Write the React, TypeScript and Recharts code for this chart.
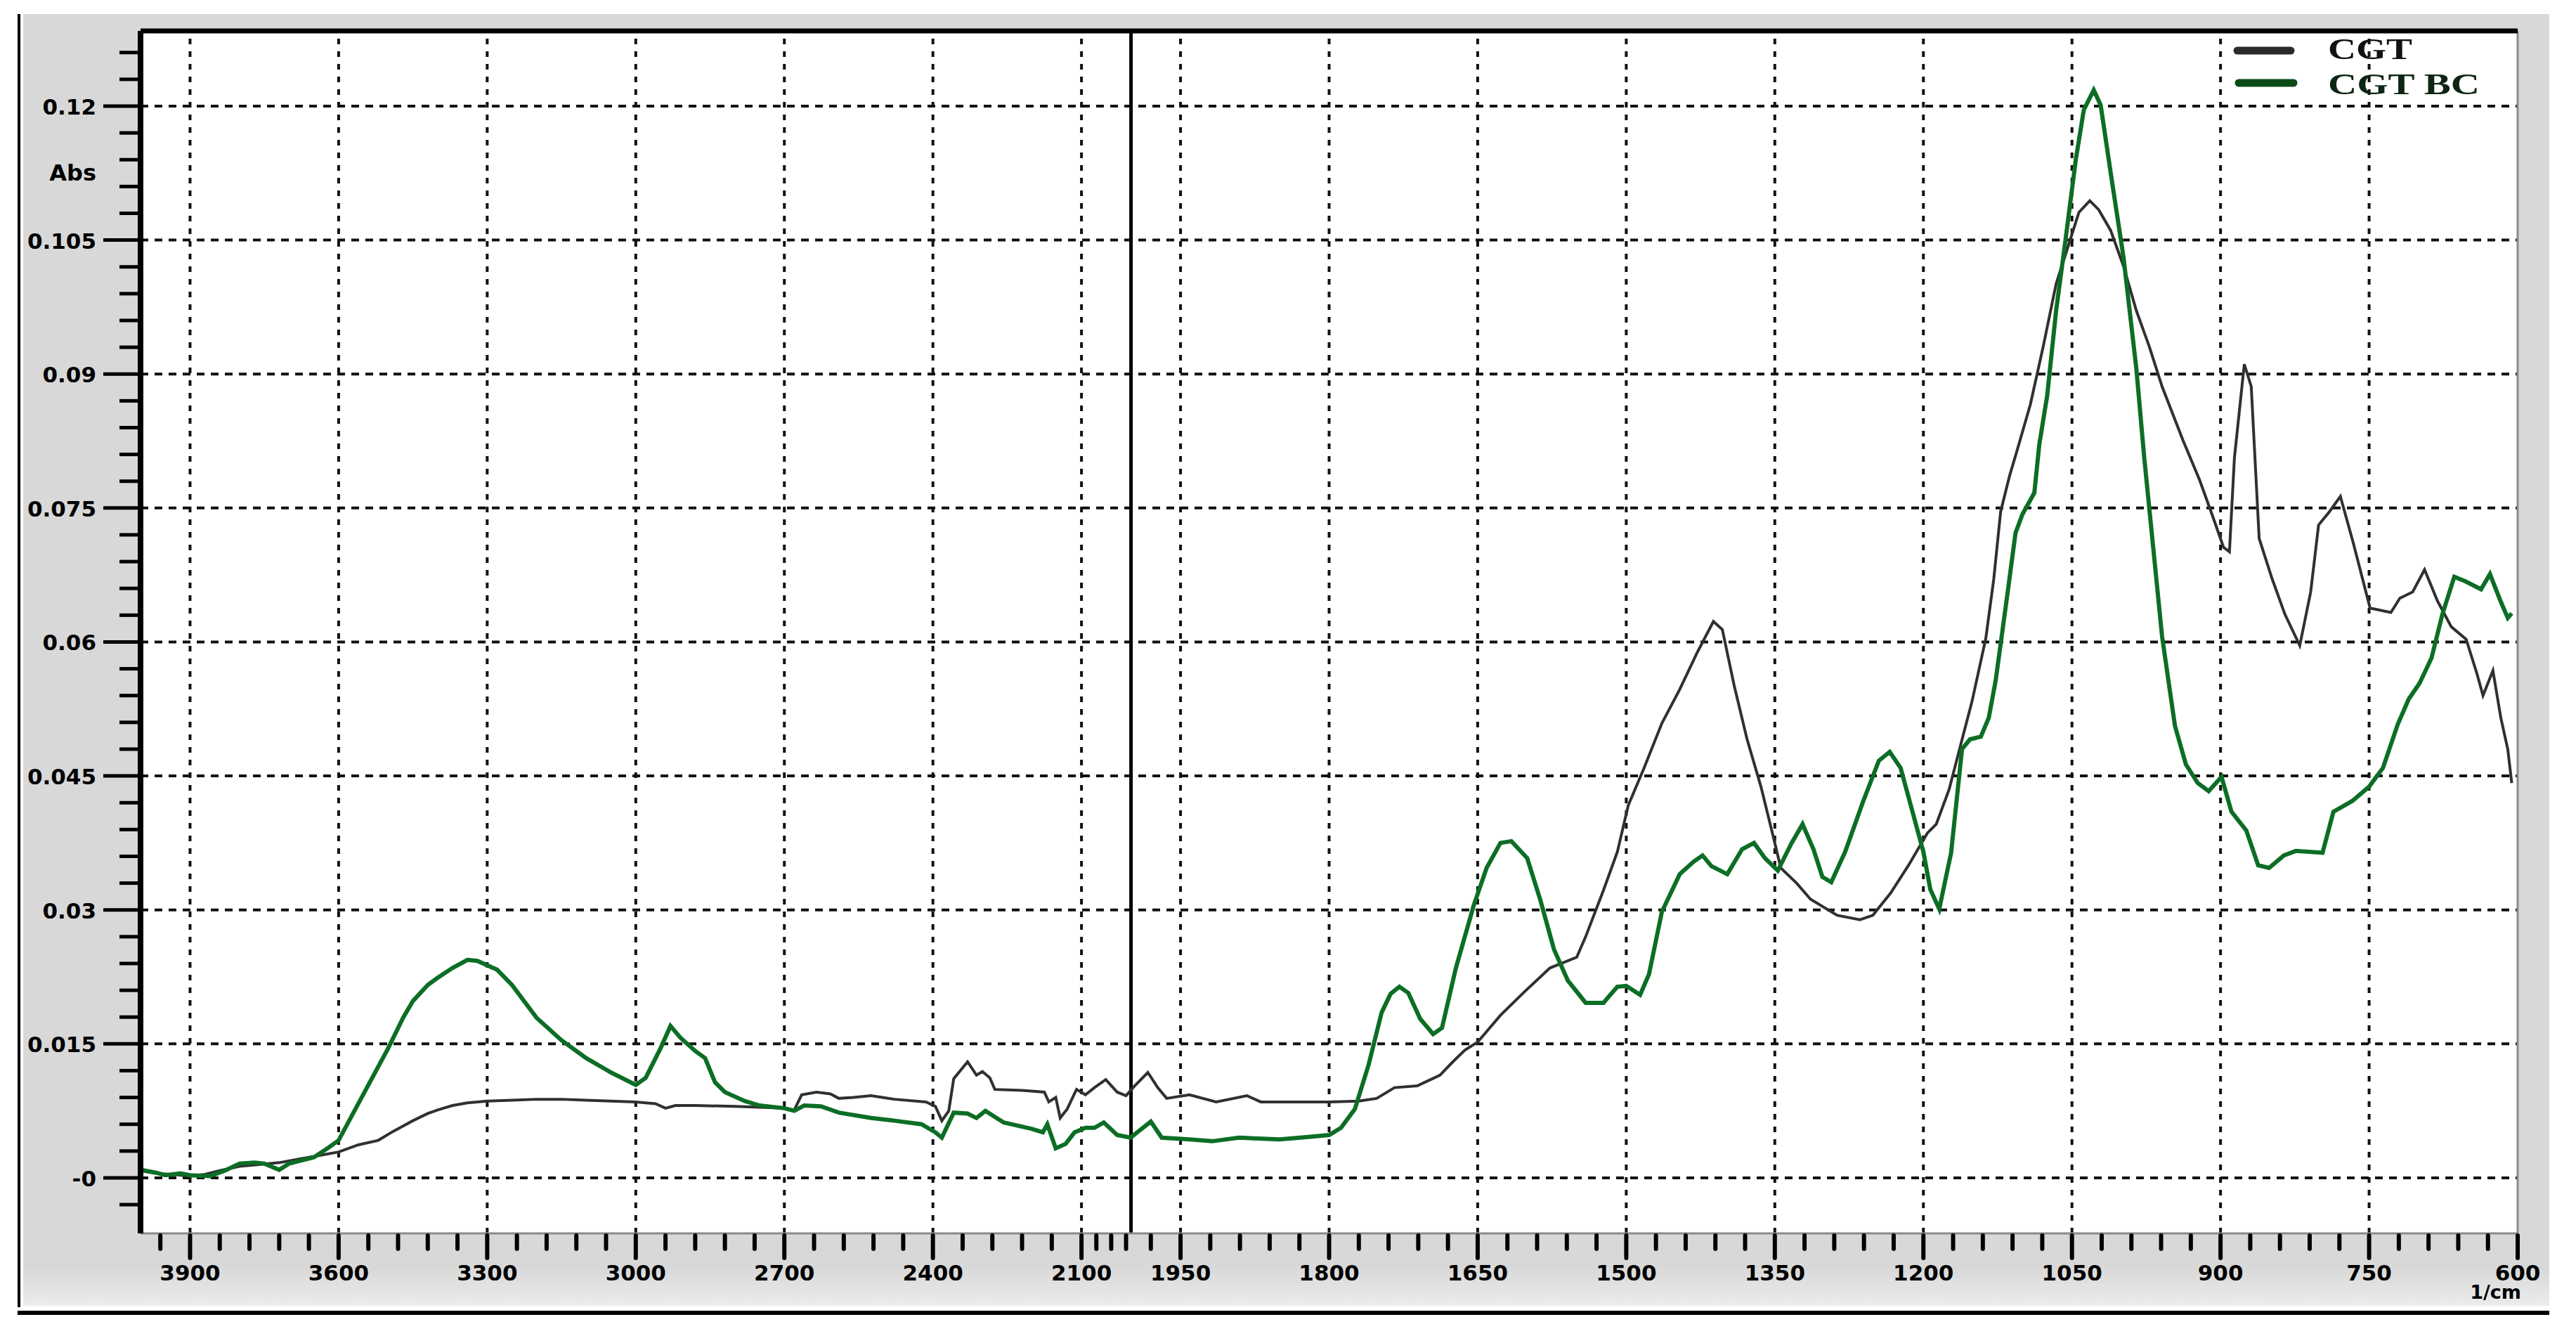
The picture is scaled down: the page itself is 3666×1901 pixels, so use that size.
import React from 'react';
import { LineChart, Line, XAxis, YAxis, ReferenceLine, ReferenceArea, Legend } from 'recharts';

// FTIR spectra (wavenumber in 1/cm, absorbance)
const cgtWavenumber = [
  4000, 3970, 3940, 3900, 3870, 3840, 3800, 3760, 3720, 3680, 3640, 3600, 3560, 3520, 3490, 3450,
  3420, 3400, 3370, 3340, 3300, 3250, 3200, 3150, 3100, 3050, 3000, 2960, 2940, 2920, 2880, 2800,
  2750, 2700, 2680, 2665, 2635, 2607, 2590, 2560, 2525, 2478, 2414, 2395, 2382, 2368, 2358, 2330,
  2312, 2300, 2285, 2275, 2220, 2175, 2166, 2152, 2143, 2129, 2110, 2092, 2074, 2051, 2028, 2010,
  1998, 1983, 1973, 1964, 1941, 1914, 1883, 1869, 1828, 1800, 1770, 1752, 1734, 1711, 1688, 1675,
  1663, 1650, 1627, 1604, 1577, 1550, 1541, 1523, 1509, 1498, 1482, 1464, 1446, 1428, 1412, 1403,
  1391, 1378, 1364, 1350, 1344, 1328, 1314, 1287, 1264, 1251, 1233, 1215, 1196, 1187, 1174, 1160,
  1151, 1137, 1129, 1122, 1113, 1105, 1092, 1079, 1066, 1053, 1043, 1032, 1023, 1011, 998, 985,
  972, 959, 938, 921, 908, 897, 891, 886, 876, 869, 861, 848, 835, 820, 809, 801,
  790, 779, 766, 749, 728, 719, 706, 694, 681, 667, 652, 641, 635, 625, 617, 610, 606,
];
const cgtAbs = [
  0.0008, 0.0005, 0.0004, 0.0002, 0.0004, 0.0008, 0.0013, 0.0015, 0.0017, 0.0021, 0.0025, 0.0029, 0.0037, 0.0042, 0.0052, 0.0064,
  0.0072, 0.0076, 0.0081, 0.0084, 0.0086, 0.0087, 0.0088, 0.0088, 0.0087, 0.0086, 0.0085, 0.0083, 0.0078, 0.0081, 0.0081, 0.008,
  0.0079, 0.0078, 0.0076, 0.0093, 0.0096, 0.0094, 0.0089, 0.009, 0.0092, 0.0088, 0.0085, 0.008, 0.0064, 0.0075, 0.0111, 0.013,
  0.0115, 0.0119, 0.0112, 0.0099, 0.0098, 0.0096, 0.0085, 0.009, 0.0067, 0.0077, 0.0099, 0.0093, 0.0101, 0.011, 0.0096, 0.0092,
  0.0101, 0.0118, 0.0101, 0.0089, 0.0093, 0.0085, 0.0092, 0.0085, 0.0085, 0.0085, 0.0086, 0.0089, 0.0101, 0.0103, 0.0115, 0.013,
  0.0143, 0.0152, 0.0182, 0.0207, 0.0235, 0.0247, 0.027, 0.0322, 0.0365, 0.0417, 0.0459, 0.0509, 0.0547, 0.0589, 0.0623, 0.0614,
  0.0551, 0.0491, 0.0438, 0.0375, 0.0347, 0.033, 0.0312, 0.0294, 0.0289, 0.0294, 0.0319, 0.035, 0.0386, 0.0396, 0.0435, 0.0495,
  0.0533, 0.0604, 0.067, 0.0746, 0.0786, 0.0816, 0.0866, 0.0931, 0.1001, 0.1046, 0.1081, 0.1094, 0.1084, 0.1061, 0.1021, 0.0971,
  0.0931, 0.0886, 0.0826, 0.0781, 0.0741, 0.0706, 0.0701, 0.0806, 0.0911, 0.0886, 0.0716, 0.0671, 0.0631, 0.0596, 0.0656, 0.0731,
  0.0746, 0.0763, 0.0711, 0.0638, 0.0633, 0.0649, 0.0656, 0.0681, 0.0646, 0.0617, 0.0603, 0.0564, 0.054, 0.0568, 0.0515, 0.048, 0.0442,
];

const bcWavenumber = [
  4000, 3970, 3950, 3920, 3900, 3860, 3830, 3800, 3770, 3750, 3720, 3700, 3650, 3620, 3600, 3570,
  3540, 3500, 3470, 3450, 3420, 3400, 3370, 3340, 3320, 3300, 3280, 3250, 3200, 3150, 3100, 3050,
  3000, 2980, 2950, 2930, 2910, 2880, 2860, 2840, 2820, 2780, 2750, 2700, 2680, 2660, 2626, 2590,
  2525, 2478, 2423, 2395, 2382, 2358, 2330, 2312, 2294, 2257, 2201, 2178, 2169, 2152, 2132, 2114,
  2092, 2074, 2055, 2028, 2001, 1980, 1969, 1941, 1918, 1891, 1850, 1819, 1800, 1788, 1774, 1760,
  1747, 1738, 1729, 1720, 1708, 1695, 1686, 1672, 1654, 1641, 1627, 1616, 1600, 1587, 1573, 1559,
  1541, 1523, 1509, 1500, 1486, 1477, 1464, 1446, 1432, 1423, 1414, 1398, 1383, 1371, 1360, 1347,
  1333, 1322, 1311, 1302, 1293, 1279, 1261, 1245, 1234, 1223, 1211, 1200, 1193, 1184, 1172, 1161,
  1153, 1142, 1134, 1127, 1115, 1107, 1100, 1088, 1083, 1075, 1066, 1057, 1046, 1038, 1028, 1021,
  1011, 998, 985, 977, 968, 959, 946, 935, 923, 912, 899, 889, 874, 862, 851, 836,
  824, 797, 786, 778, 767, 750, 736, 721, 710, 699, 687, 676, 664, 653, 637, 628, 617, 610, 606,
];
const bcAbs = [
  0.0009, 0.0006, 0.0003, 0.0005, 0.0003, 0.0002, 0.0008, 0.0016, 0.0017, 0.0016, 0.0009, 0.0016, 0.0023, 0.0034, 0.0042, 0.0073,
  0.0104, 0.0145, 0.0179, 0.0198, 0.0216, 0.0224, 0.0235, 0.0244, 0.0243, 0.0238, 0.0233, 0.0216, 0.0179, 0.0154, 0.0134, 0.0118,
  0.0104, 0.0112, 0.0145, 0.017, 0.0157, 0.0142, 0.0134, 0.0107, 0.0096, 0.0086, 0.0081, 0.0078, 0.0075, 0.0081, 0.008, 0.0073,
  0.0067, 0.0064, 0.006, 0.0051, 0.0045, 0.0073, 0.0072, 0.0067, 0.0075, 0.0062, 0.0055, 0.0051, 0.006, 0.0033, 0.0038, 0.0051,
  0.0056, 0.0056, 0.0062, 0.0048, 0.0045, 0.0063, 0.0045, 0.0043, 0.0041, 0.0045, 0.0043, 0.0046, 0.0048, 0.0056, 0.0077, 0.0127,
  0.0185, 0.0206, 0.0214, 0.0207, 0.0178, 0.0161, 0.0168, 0.0235, 0.0305, 0.0347, 0.0375, 0.0377, 0.0358, 0.0312, 0.0256, 0.0221,
  0.0196, 0.0196, 0.0214, 0.0215, 0.0205, 0.0228, 0.0298, 0.034, 0.0354, 0.0361, 0.0349, 0.034, 0.0368, 0.0375, 0.0358, 0.0344,
  0.0375, 0.0396, 0.0368, 0.0337, 0.0331, 0.0365, 0.0421, 0.0467, 0.0477, 0.0459, 0.041, 0.0365, 0.0323, 0.0301, 0.0364, 0.048,
  0.0491, 0.0494, 0.0515, 0.0557, 0.0655, 0.0722, 0.0743, 0.0767, 0.0821, 0.0876, 0.0971, 0.1046, 0.1141, 0.1196, 0.1218, 0.1201,
  0.1126, 0.1031, 0.0906, 0.0806, 0.0706, 0.0606, 0.0506, 0.0463, 0.0442, 0.0433, 0.0449, 0.041, 0.0389, 0.035, 0.0347, 0.0361,
  0.0366, 0.0364, 0.041, 0.0415, 0.0422, 0.0438, 0.0459, 0.0508, 0.0536, 0.0554, 0.0582, 0.0631, 0.0673, 0.0668, 0.0659, 0.0676, 0.0645, 0.0627, 0.0632,
];

const xMajorTicks = [3900, 3600, 3300, 3000, 2700, 2400, 2100, 1950, 1800, 1650, 1500, 1350, 1200, 1050, 900, 750, 600];
const xMinorTicks = [2070, 2040, 2010];
const yMajorTicks = [0, 0.015, 0.03, 0.045, 0.06, 0.075, 0.09, 0.105, 0.12];
const yTickLabels = ['-0', '0.015', '0.03', '0.045', '0.06', '0.075', '0.09', '0.105', '0.12'];

const Y_MIN = -0.00622;
const Y_MAX = 0.12842;
const LABEL_FONT = '"DejaVu Sans", Verdana, sans-serif';

// the spectrometer plots 4000-2000 at half the scale of 2000-600
function toPos(wn: number) {
  return wn >= 2000 ? (4000 - wn) / 2 : 1000 + (2000 - wn);
}

const cgtData = cgtWavenumber.map((wn, i) => ({ pos: toPos(wn), abs: cgtAbs[i] }));
const bcData = bcWavenumber.map((wn, i) => ({ pos: toPos(wn), abs: bcAbs[i] }));

const xMajorPos = xMajorTicks.map(toPos);
const xTickPos: number[] = [];
for (let wn = 3960; wn >= 2100; wn -= 60) xTickPos.push(toPos(wn));
xMinorTicks.forEach((wn) => xTickPos.push(toPos(wn)));
for (let wn = 1980; wn >= 600; wn -= 30) xTickPos.push(toPos(wn));

const yTickPos: number[] = [];
for (let k = -1; k <= 42; k++) yTickPos.push(Math.round(k * 3) / 1000);

// eslint-disable-next-line @typescript-eslint/no-explicit-any
function XTick({ x, y, payload }: any) {
  const idx = xMajorPos.findIndex((p) => Math.abs(p - payload.value) < 1e-6);
  const major = idx >= 0;
  return (
    <g>
      <line x1={x} x2={x} y1={y + 3} y2={y + (major ? 35 : 22)} stroke="#000" strokeWidth={6} strokeLinecap="round" />
      {major && (
        <text x={x} y={y + 67} textAnchor="middle" fontFamily={LABEL_FONT} fontWeight="bold" fontSize={31} fill="#000">
          {xMajorTicks[idx]}
        </text>
      )}
    </g>
  );
}

// eslint-disable-next-line @typescript-eslint/no-explicit-any
function YTick({ x, y, payload }: any) {
  const idx = yMajorTicks.findIndex((v) => Math.abs(v - payload.value) < 1e-7);
  const major = idx >= 0;
  return (
    <g>
      <line x1={x - 4} x2={x - (major ? 53 : 30)} y1={y} y2={y} stroke="#000" strokeWidth={5} />
      {major && (
        <text x={x - 63} y={y + 12} textAnchor="end" fontFamily={LABEL_FONT} fontWeight="bold" fontSize={31} fill="#000">
          {yTickLabels[idx]}
        </text>
      )}
    </g>
  );
}

function LegendContent() {
  return (
    <svg width={460} height={120}>
      <line x1={36} x2={112} y1={32} y2={32} stroke="#2b2b2b" strokeWidth={11} strokeLinecap="round" />
      <line x1={38} x2={116} y1={78} y2={78} stroke="#0b4a17" strokeWidth={11} strokeLinecap="round" />
      <text x={165} y={44} fontFamily='"Liberation Serif", "Times New Roman", serif' fontWeight="bold" fontSize={42}
        fill="#111" textLength={120} lengthAdjust="spacingAndGlyphs">CGT</text>
      <text x={165} y={94} fontFamily='"Liberation Serif", "Times New Roman", serif' fontWeight="bold" fontSize={42}
        fill="#0d2614" textLength={216} lengthAdjust="spacingAndGlyphs">CGT BC</text>
    </svg>
  );
}

export default function App() {
  return (
    <div style={{ position: 'relative', width: 3666, height: 1901, background: '#fff' }}>
      <style>{'body{margin:0;}'}</style>
      {/* grey instrument panel round the plot */}
      <div style={{ position: 'absolute', left: 33, top: 20, width: 3595, height: 1838,
        background: 'linear-gradient(to bottom, #d8d8d8 0%, #d8d8d8 97%, #ececec 100%)' }} />
      <div style={{ position: 'absolute', left: 25, top: 20, width: 4, height: 1840, background: '#000' }} />
      <div style={{ position: 'absolute', left: 25, top: 1865, width: 3603, height: 6, background: '#000' }} />
      <div style={{ position: 'absolute', left: 0, top: 0 }}>
        <LineChart width={3666} height={1901} margin={{ top: 44, right: 83, bottom: 46, left: 30 }}>
          <XAxis
            dataKey="pos"
            type="number"
            domain={[0, 2400]}
            ticks={xTickPos}
            interval={0}
            allowDataOverflow
            height={100}
            tick={<XTick />}
            tickLine={false}
            tickSize={0}
            tickMargin={0}
            axisLine={{ stroke: '#8a8a8a', strokeWidth: 3 }}
          />
          <YAxis
            type="number"
            domain={[Y_MIN, Y_MAX]}
            ticks={yTickPos}
            interval={0}
            allowDataOverflow
            width={170}
            tick={<YTick />}
            tickLine={false}
            tickSize={0}
            tickMargin={0}
            axisLine={{ stroke: '#000', strokeWidth: 8 }}
          />
          <ReferenceArea x1={0} x2={2400} y1={Y_MIN} y2={Y_MAX} fill="#fff" fillOpacity={1} stroke="none" />
          {yMajorTicks.map((v) => (
            <ReferenceLine key={`h${v}`} y={v} stroke="#111" strokeWidth={4} strokeDasharray="11 9" />
          ))}
          {xMajorTicks.slice(0, -1).map((wn) => (
            <ReferenceLine key={`v${wn}`} x={toPos(wn)} stroke="#111" strokeWidth={4} strokeDasharray="8 10" />
          ))}
          <ReferenceLine x={toPos(2000)} stroke="#000" strokeWidth={5} />
          <ReferenceLine x={2400} stroke="#8a8a8a" strokeWidth={3} />
          <Line data={cgtData} dataKey="abs" name="CGT" type="linear" stroke="#303030" strokeWidth={4}
            dot={false} isAnimationActive={false} />
          <Line data={bcData} dataKey="abs" name="CGT BC" type="linear" stroke="#0c6e25" strokeWidth={6}
            dot={false} isAnimationActive={false} />
          <ReferenceLine y={Y_MAX} stroke="#000" strokeWidth={7} />
          <Legend
            layout="horizontal"
            verticalAlign="middle"
            align="center"
            content={<LegendContent />}
            wrapperStyle={{ position: 'absolute', left: 3148, top: 40, width: 460, height: 120 }}
          />
        </LineChart>
      </div>
      <svg width={3666} height={1901} style={{ position: 'absolute', left: 0, top: 0, pointerEvents: 'none' }}>
        <text x={137} y={257} textAnchor="end" fontFamily={LABEL_FONT} fontWeight="bold" fontSize={32} fill="#000">Abs</text>
        <text x={3588} y={1848} textAnchor="end" fontFamily={LABEL_FONT} fontWeight="bold" fontSize={27} fill="#000">1/cm</text>
      </svg>
    </div>
  );
}
